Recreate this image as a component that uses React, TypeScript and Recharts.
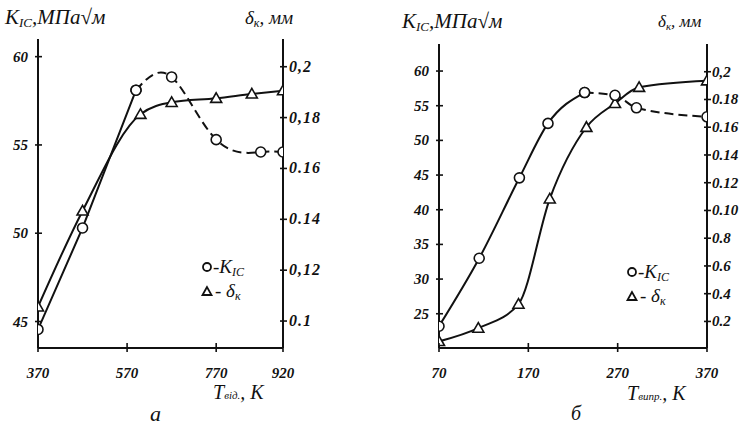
import React from "react";
import { LineChart, Line, XAxis, YAxis } from "recharts";

// ---- Panel a (tempering temperature) ----
const tempA_K = [370, 470, 590, 670, 770, 870, 920];
const kA = [44.55, 50.3, 58.1, 58.85, 55.3, 54.6, 54.6];
const tempA_D = [370, 470, 600, 670, 770, 850, 920];
const dA = [0.1056, 0.1433, 0.1813, 0.186, 0.1876, 0.1893, 0.1906];
const xTicksA = [370, 570, 770, 920];
const kTicksA = [45, 50, 55, 60];
const dTicksA = [0.1, 0.12, 0.14, 0.16, 0.18, 0.2];
const dLabelsA = ["0.1", "0,12", "0.14", "0.16", "0,18", "0,2"];

// ---- Panel б (test temperature) ----
const tempB_K = [70, 115, 160, 192, 233, 267, 291, 370];
const kB = [23.2, 33.0, 44.6, 52.45, 56.9, 56.5, 54.7, 53.4];
const tempB_D = [70, 114, 159, 194, 235, 267, 294, 370];
const dB = [0.0056, 0.0152, 0.0325, 0.1084, 0.16, 0.1772, 0.1888, 0.1935];
const xTicksB = [70, 170, 270, 370];
const kTicksB = [25, 30, 35, 40, 45, 50, 55, 60];
const dTicksB = [0.02, 0.04, 0.06, 0.08, 0.1, 0.12, 0.14, 0.16, 0.18, 0.2];
const dLabelsB = ["0.2", "0.4", "0.6", "0.8", "0.10", "0.12", "0.14", "0.16", "0.18", "0,2"];

const zip = (t: number[], v: number[]) => t.map((x, i) => ({ t: x, v: v[i] }));

const INK = "#111";
const numStyle: React.CSSProperties = {
  fontFamily: "'Liberation Serif', serif",
  fontWeight: "bold",
  fontStyle: "italic",
  fontSize: 15,
  fill: INK,
};
const rightNumStyleA: React.CSSProperties = { ...numStyle, fontSize: 16, letterSpacing: 1 };
const rightNumStyleB: React.CSSProperties = { ...numStyle, fontSize: 15 };
const titleStyle: React.CSSProperties = {
  fontFamily: "'Liberation Serif', serif",
  fontStyle: "italic",
  fill: INK,
};

const CircleDot = (p: any) => {
  if (p.cx == null || p.cy == null) return null;
  return <circle key={`c${p.index}`} cx={p.cx} cy={p.cy} r={5} fill="#fff" stroke={INK} strokeWidth={1.6} />;
};
const TriDot = (p: any) => {
  if (p.cx == null || p.cy == null) return null;
  const s = 5.5;
  const pts = `${p.cx},${p.cy - s} ${p.cx - s},${p.cy + s * 0.75} ${p.cx + s},${p.cy + s * 0.75}`;
  return <polygon key={`t${p.index}`} points={pts} fill="#fff" stroke={INK} strokeWidth={1.6} />;
};

const LeftTick = (p: any) => (
  <g>
    <line x1={p.x - 3} x2={p.x + 4} y1={p.y} y2={p.y} stroke={INK} strokeWidth={1.6} />
    <text x={p.x - 10} y={p.y + 5} textAnchor="end" style={numStyle}>{p.payload.value}</text>
  </g>
);
const makeRightTick = (ticks: number[], labels: string[], style: React.CSSProperties, gap: number) => (p: any) => {
  const i = ticks.findIndex((t) => Math.abs(t - p.payload.value) < 1e-9);
  return (
    <g>
      <line x1={p.x - 3} x2={p.x + 4} y1={p.y} y2={p.y} stroke={INK} strokeWidth={1.6} />
      <text x={p.x + gap} y={p.y + 5} textAnchor="start" style={style}>{i >= 0 ? labels[i] : p.payload.value}</text>
    </g>
  );
};
const BottomTick = (p: any) => (
  <g>
    <line x1={p.x} x2={p.x} y1={p.y - 5} y2={p.y + 4} stroke={INK} strokeWidth={1.6} />
    <text x={p.x} y={p.y + 30} textAnchor="middle" style={numStyle}>{p.payload.value}</text>
  </g>
);

const RightTickA = makeRightTick(dTicksA, dLabelsA, rightNumStyleA, 6);
const RightTickB = makeRightTick(dTicksB, dLabelsB, rightNumStyleB, 5);

const axisLine = { stroke: INK, strokeWidth: 2 };

function Panel(props: {
  left: number;
  margin: any;
  yLeftWidth: number;
  yRightWidth: number;
  xDomain: number[];
  xTicks: number[];
  kDomain: number[];
  kTicks: number[];
  dDomain: number[];
  dTicks: number[];
  RightTick: any;
  kSolid: any[];
  kDashed: any[];
  dLine: any[];
  kSolidType: any;
  kDashedType: any;
  dType: any;
}) {
  return (
    <div style={{ position: "absolute", left: props.left, top: 0 }}>
      <LineChart width={371} height={426} margin={props.margin}>
        <XAxis
          xAxisId="b"
          type="number"
          dataKey="t"
          domain={props.xDomain}
          ticks={props.xTicks}
          interval={0}
          tickSize={0}
          tickMargin={0}
          tickLine={false}
          tick={BottomTick}
          axisLine={axisLine}
          height={30}
          allowDataOverflow
        />
        <XAxis
          xAxisId="top"
          orientation="top"
          type="number"
          dataKey="t"
          domain={props.xDomain}
          tick={false}
          tickLine={false}
          axisLine={axisLine}
          height={0}
          allowDataOverflow
        />
        <YAxis
          yAxisId="k"
          orientation="left"
          type="number"
          domain={props.kDomain}
          ticks={props.kTicks}
          interval={0}
          tickSize={0}
          tickMargin={0}
          tickLine={false}
          tick={LeftTick}
          axisLine={axisLine}
          width={props.yLeftWidth}
          allowDataOverflow
        />
        <YAxis
          yAxisId="d"
          orientation="right"
          type="number"
          domain={props.dDomain}
          ticks={props.dTicks}
          interval={0}
          tickSize={0}
          tickMargin={0}
          tickLine={false}
          tick={props.RightTick}
          axisLine={axisLine}
          width={props.yRightWidth}
          allowDataOverflow
        />
        <Line
          xAxisId="b"
          yAxisId="d"
          data={props.dLine}
          dataKey="v"
          type={props.dType}
          stroke={INK}
          strokeWidth={2}
          dot={TriDot}
          isAnimationActive={false}
        />
        <Line
          xAxisId="b"
          yAxisId="k"
          data={props.kSolid}
          dataKey="v"
          type={props.kSolidType}
          stroke={INK}
          strokeWidth={2}
          dot={CircleDot}
          isAnimationActive={false}
        />
        <Line
          xAxisId="b"
          yAxisId="k"
          data={props.kDashed}
          dataKey="v"
          type={props.kDashedType}
          stroke={INK}
          strokeWidth={2}
          strokeDasharray="9 5"
          dot={CircleDot}
          isAnimationActive={false}
        />
      </LineChart>
    </div>
  );
}

const Legend = ({ x, y }: { x: number; y: number }) => (
  <g>
    <circle cx={x} cy={y} r={4} fill="#fff" stroke={INK} strokeWidth={1.8} />
    <text x={x + 6} y={y + 6} style={{ ...titleStyle, fontSize: 19 }}>
      -K<tspan fontSize={12} dy={3}>IC</tspan>
    </text>
    <polygon
      points={`${x},${y + 20} ${x - 4.5},${y + 28} ${x + 4.5},${y + 28}`}
      fill="#fff"
      stroke={INK}
      strokeWidth={1.8}
    />
    <text x={x + 8} y={y + 30} style={{ ...titleStyle, fontSize: 19 }}>
      - δ<tspan fontSize={12} dy={3}>к</tspan>
    </text>
  </g>
);

export default function App() {
  const kASolid = zip(tempA_K, kA).slice(0, 3);
  const kADashed = zip(tempA_K, kA).slice(2);
  const dALine = zip(tempA_D, dA);
  const kBSolid = zip(tempB_K, kB).slice(0, 5);
  const kBDashed = zip(tempB_K, kB).slice(4);
  const dBLine = zip(tempB_D, dB);

  return (
    <div style={{ position: "absolute", left: 0, top: 0, width: 742, height: 426, background: "#fff", overflow: "hidden" }}>
      <Panel
        left={0}
        margin={{ top: 39, right: 0, bottom: 48, left: 0 }}
        yLeftWidth={38}
        yRightWidth={88}
        xDomain={[370, 920]}
        xTicks={xTicksA}
        kDomain={[43.5, 61]}
        kTicks={kTicksA}
        dDomain={[0.0894, 0.2109]}
        dTicks={dTicksA}
        RightTick={RightTickA}
        kSolid={kASolid}
        kDashed={kADashed}
        dLine={dALine}
        kSolidType="linear"
        kDashedType="natural"
        dType="monotone"
      />
      <Panel
        left={371}
        margin={{ top: 44, right: 0, bottom: 48, left: 0 }}
        yLeftWidth={68}
        yRightWidth={35}
        xDomain={[70, 370]}
        xTicks={xTicksB}
        kDomain={[20.06, 63.9]}
        kTicks={kTicksB}
        dDomain={[0.00085, 0.22]}
        dTicks={dTicksB}
        RightTick={RightTickB}
        kSolid={kBSolid}
        kDashed={kBDashed}
        dLine={dBLine}
        kSolidType="monotone"
        kDashedType="monotone"
        dType="monotone"
      />
      <svg width={742} height={426} style={{ position: "absolute", left: 0, top: 0, pointerEvents: "none" }}>
        {/* panel a titles */}
        <text x={5} y={24} style={{ ...titleStyle, fontSize: 21 }}>
          K<tspan fontSize={13} dy={3}>IC</tspan>
          <tspan dy={-3}>,МПа√м</tspan>
        </text>
        <text x={245} y={24} style={{ ...titleStyle, fontSize: 19 }}>
          δ<tspan fontSize={12} dy={3}>к</tspan>
          <tspan dy={-3}>, мм</tspan>
        </text>
        <text x={213} y={399} style={{ ...titleStyle, fontSize: 20 }}>
          T<tspan fontSize={11} dy={0}>від.</tspan>
          <tspan>, K</tspan>
        </text>
        <text x={150} y={421} style={{ ...titleStyle, fontSize: 22 }}>а</text>
        <Legend x={207} y={267} />

        {/* panel б titles */}
        <text x={402} y={28} style={{ ...titleStyle, fontSize: 21 }}>
          K<tspan fontSize={13} dy={3}>IC</tspan>
          <tspan dy={-3}>,МПа√м</tspan>
        </text>
        <text x={658} y={27} style={{ ...titleStyle, fontSize: 17 }}>
          δ<tspan fontSize={11} dy={3}>к</tspan>
          <tspan dy={-3}>, мм</tspan>
        </text>
        <text x={627} y={400} style={{ ...titleStyle, fontSize: 20 }}>
          T<tspan fontSize={11}>випр.</tspan>
          <tspan>, K</tspan>
        </text>
        <text x={571} y={420} style={{ ...titleStyle, fontSize: 20 }}>б</text>
        <Legend x={632} y={272} />
      </svg>
    </div>
  );
}
